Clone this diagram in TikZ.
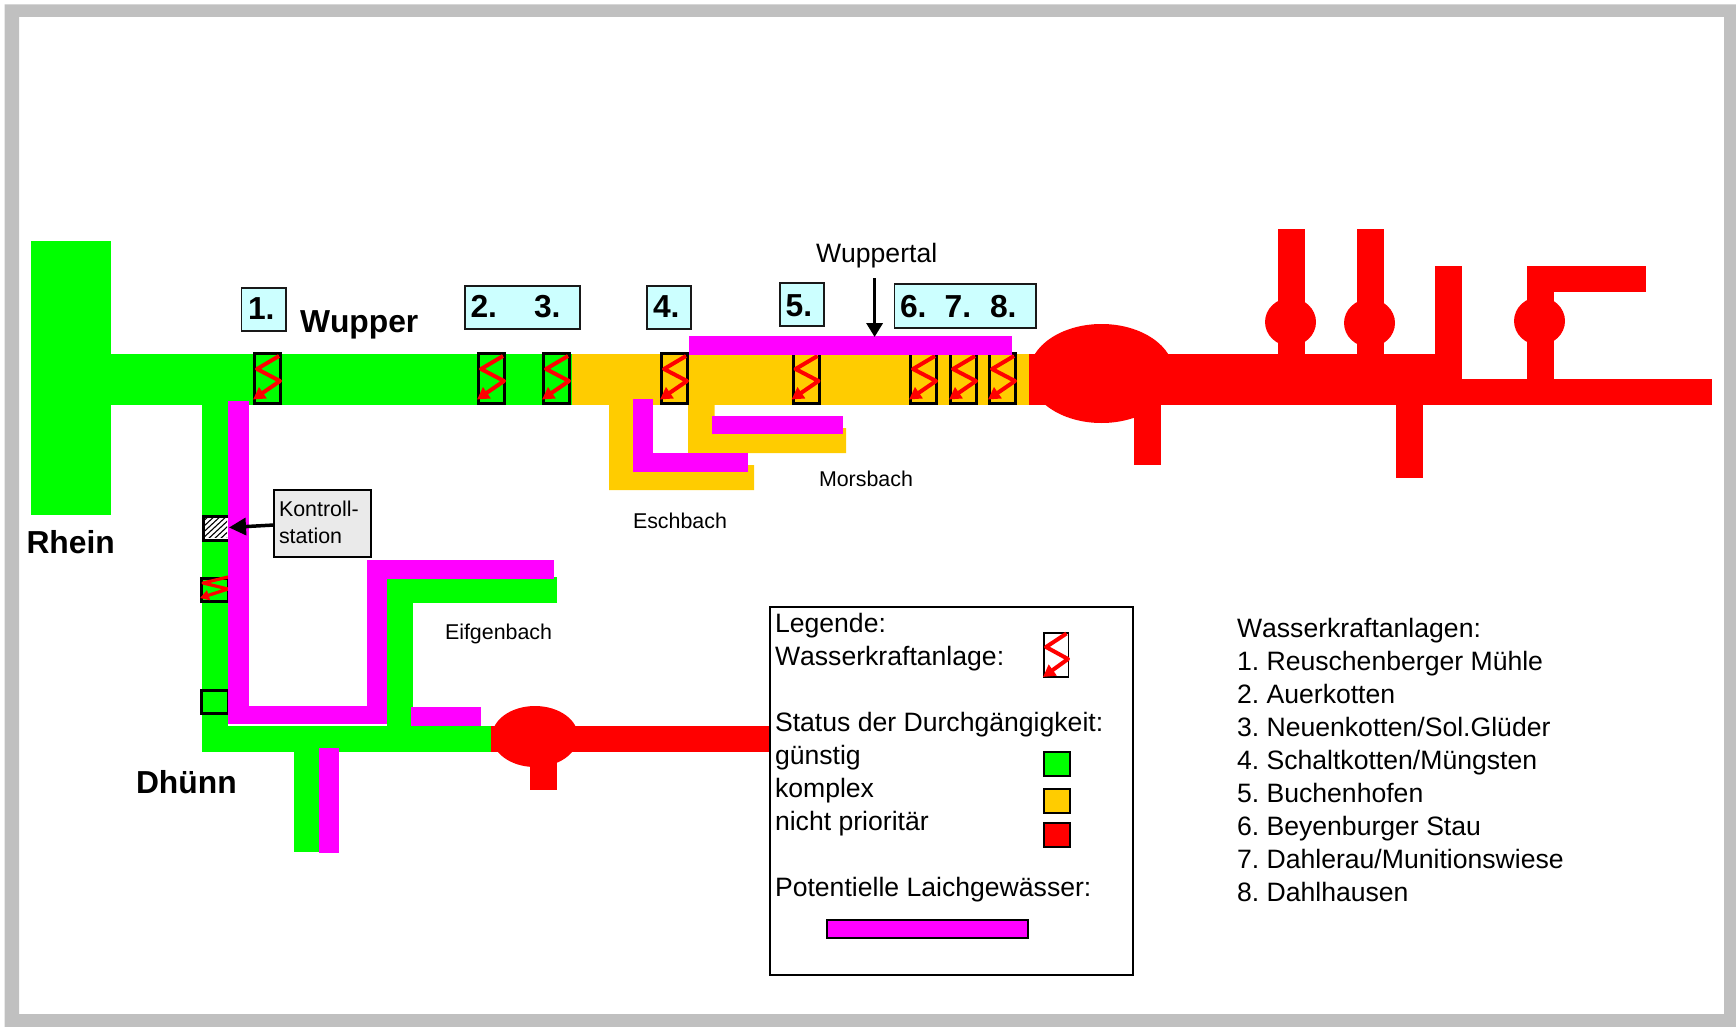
\documentclass[tikz,border=0pt]{standalone}
\usepackage{fontspec}
\setmainfont[Kerning=Off]{Liberation Sans}
\usetikzlibrary{arrows.meta}
\definecolor{rgreen}{HTML}{00FF00}
\definecolor{rorange}{HTML}{FFCC00}
\definecolor{rred}{HTML}{FF0000}
\definecolor{rmag}{HTML}{FF00FF}
\definecolor{framegray}{HTML}{C0C0C0}
\definecolor{labelcyan}{HTML}{CCFFFF}
\definecolor{boxgray}{HTML}{EAEAEA}
\newcommand{\rbox}[5][]{\node[#1,anchor=north west,minimum width=#4pt-#2pt,minimum height=#5pt-#3pt] at (#2,#3) {};}
\tikzset{
  x=1pt,y=-1pt,
  txt/.style={anchor=base west,inner sep=0pt,outer sep=0pt,text=black},
  big/.style={txt,font=\fontsize{26.6}{33}\selectfont},
  small/.style={txt,font=\fontsize{21.4}{28}\selectfont},
  heavy/.style={txt,font=\fontsize{31.8}{36}\selectfont\bfseries},
  numbox/.style={draw=black!90,line width=1.8pt,fill=labelcyan,inner sep=0pt,outer sep=0pt},
  swatch/.style={draw=black,line width=1.5pt,inner sep=0pt,outer sep=0pt},
  zig/.style={draw=rred,line width=4pt,line join=round,-{Triangle[length=12pt,width=13pt]}},
  wkabox/.style={draw=black,line width=3pt},
  pics/wka/.style={code={
    \draw[wkabox] (1.5,1.5) rectangle (27.5,51.5);
    \draw[zig] (26,4) -- (4,17) -- (27,29) -- (0,47.5);
  }}
}
\frenchspacing
\begin{document}
\begin{tikzpicture}
\useasboundingbox (0,0) rectangle (1736,1027);
% frame
\fill[framegray,even odd rule] (4.5,4.5) rectangle (1736,1027) (19,17) rectangle (1724,1014);

% Wupper, green part
\fill[rgreen] (31,241) rectangle (111,515);
\fill[rgreen] (111,354) rectangle (572,405);
% Duenn
\fill[rgreen] (202,405) rectangle (228,752);
\fill[rgreen] (202,726) rectangle (491,752);
\fill[rgreen] (294,752) rectangle (319,852);
\fill[rgreen] (387,577) rectangle (413,726);
\fill[rgreen] (387,577) rectangle (557,603);
% Wupper, orange part
\fill[rorange] (572,354) rectangle (1032,405);
\fill[rorange] (609,405) -- (609,490) -- (754,490) -- (754,465) -- (700,465) -- (700,472) -- (640,472) -- (640,405) -- cycle;
\fill[rorange] (688,405) -- (688,453) -- (846,453) -- (846,428) -- (714.5,428) -- (714.5,405) -- cycle;
% red parts
\fill[rred] (1029,354) rectangle (1462,405);
\fill[rred] (1462,379) rectangle (1712,405);
\fill[rred] (1101.5,373.5) ellipse [x radius=72.5,y radius=49.5];
\fill[rred] (1134,405) rectangle (1161,465);
\fill[rred] (1396,405) rectangle (1423,478);
\fill[rred] (1278,229) rectangle (1305,354);
\fill[rred] (1357,229) rectangle (1384,354);
\fill[rred] (1435,266) rectangle (1462,354);
\fill[rred] (1527,266) rectangle (1554,379);
\fill[rred] (1527,266) rectangle (1646,292);
\fill[rred] (1290.5,322) ellipse [x radius=25.5,y radius=24];
\fill[rred] (1369.5,323) ellipse [x radius=25.5,y radius=24];
\fill[rred] (1539.5,321) ellipse [x radius=25.5,y radius=24];
% red Duenn
\fill[rred] (491,726) rectangle (769,752);
\fill[rred] (535,736.5) ellipse [x radius=43,y radius=30.5];
\fill[rred] (530,752) rectangle (557,790);

% plants on the Wupper
\pic at (253,352) {wka};
\pic at (477,352) {wka};
\pic at (542,352) {wka};
\pic at (660,352) {wka};
\pic at (791.5,352) {wka};
\pic at (909,352) {wka};
\pic at (949,352) {wka};
\pic at (988,352) {wka};
% plants on the Duenn
\draw[wkabox] (201.5,578.5) rectangle (228,601.5);
\draw[draw=rred,line width=3.2pt,line join=round,-{Triangle[length=9pt,width=10pt]}] (228,577) -- (203,583) -- (228,589) -- (200,598);
\draw[wkabox] (201.5,690.5) rectangle (228,713.5);
\node[draw=black,line width=3pt,fill=white,anchor=north west,minimum width=26pt,minimum height=24pt,inner sep=0pt] (kbox) at (201.5,515) {};
\begin{scope}
  \clip (203,516.5) rectangle (227,537.5);
  \foreach \d in {-20,-14,-8,-2,4,10,16,22}
    \draw[black,line width=1.1pt] (203+\d,540) -- (231+\d,514);
\end{scope}

% spawning waters
\fill[rmag] (689,336) rectangle (1012,355);
\fill[rmag] (633,399) rectangle (653,472);
\fill[rmag] (633,453) rectangle (748,472);
\fill[rmag] (712,416) rectangle (843,434);
\fill[rmag] (228,401) rectangle (249,724);
\fill[rmag] (229,706) rectangle (387,724);
\fill[rmag] (367,560) rectangle (387,724);
\fill[rmag] (367,560) rectangle (554,579);
\fill[rmag] (411,707) rectangle (481,726);
\fill[rmag] (319,748) rectangle (339,853);

% number boxes
\rbox[numbox]{241.5}{288}{286}{331}
\node[heavy] (n1) at (248,319) {1.};
\rbox[numbox]{465}{286}{580}{329}
\node[heavy] (n2) at (470.5,317) {2.};
\node[heavy] (n3) at (534,317) {3.};
\rbox[numbox]{647}{286}{691}{329}
\node[heavy] (n4) at (653,317) {4.};
\rbox[numbox]{780}{283}{824}{326}
\node[heavy] (n5) at (785.6,316) {5.};
\rbox[numbox]{894.5}{284}{1036}{328}
\node[heavy] (n6) at (900,317) {6.};
\node[heavy] (n7) at (944.6,317) {7.};
\node[heavy] (n8) at (990,317) {8.};

% river names
\node[heavy] (wupper) at (300,332.5) {Wupper};
\node[heavy] (rhein) at (26.5,553) {Rhein};
\node[heavy] (duenn) at (136,793) {Dhünn};
\node[big] (wuppertal) at (816,262) {Wuppertal};
\node[small] (eschbach) at (633,528) {Eschbach};
\node[small] (morsbach) at (819,486) {Morsbach};
\node[small] (eifgenbach) at (445,639.5) {Eifgenbach};

% Wuppertal arrow
\coordinate (wtop) at (874.6,278);
\coordinate (wbot) at (874.6,337);
\draw[black,line width=3.5pt,-{Triangle[length=14pt,width=16pt]}] (wtop) -- (wbot);

% control station
\node[draw=black,line width=1.8pt,fill=boxgray,anchor=north west,minimum width=97pt,minimum height=67pt,inner sep=0pt,outer sep=0pt] (kontroll) at (274,490) {};
\node[small] (k1) at (279,516) {Kontroll-};
\node[small] (k2) at (279,543.5) {station};
\coordinate (kin) at (229,527.5);
\draw[black,line width=3.5pt,-{Triangle[length=17pt,width=17pt]}] (kontroll.west) ++(0,1.5) -- (kin);

% legend
\node[draw=black,line width=2pt,fill=white,anchor=north west,minimum width=362.5pt,minimum height=368pt,inner sep=0pt,outer sep=0pt] (legend) at (770,607) {};
\node[big] (l1) at (775,632) {Legende:};
\node[big] (l2) at (775,665) {Wasserkraftanlage:};
\node[big] (l3) at (775,731) {Status der Durchgängigkeit:};
\node[big] (l4) at (775,764) {günstig};
\node[big] (l5) at (775,797) {komplex};
\node[big] (l6) at (775,830) {nicht prioritär};
\node[big] (l7) at (775,896) {Potentielle Laichgewässer:};
\draw[black,line width=1.5pt] (1044,633) rectangle (1068.7,677);
\draw[zig] (1066.5,633.5) -- (1046,647) -- (1068,659) -- (1043,677);
\rbox[swatch,fill=rgreen]{1044}{752}{1070}{776}
\rbox[swatch,fill=rorange]{1044}{789}{1070}{813}
\rbox[swatch,fill=rred]{1044}{823}{1070}{847}
\rbox[swatch,fill=rmag]{827}{920}{1028}{938}

% plant list
\node[big] (p0) at (1237,637.5) {Wasserkraftanlagen:};
\node[big] (p1) at (1237,670) {1. Reuschenberger Mühle};
\node[big] (p2) at (1237,703) {2. Auerkotten};
\node[big] (p3) at (1237,736) {3. Neuenkotten/Sol.Glüder};
\node[big] (p4) at (1237,769) {4. Schaltkotten/Müngsten};
\node[big] (p5) at (1237,802) {5. Buchenhofen};
\node[big] (p6) at (1237,835) {6. Beyenburger Stau};
\node[big] (p7) at (1237,868) {7. Dahlerau/Munitionswiese};
\node[big] (p8) at (1237,901) {8. Dahlhausen};
\end{tikzpicture}
\end{document}
